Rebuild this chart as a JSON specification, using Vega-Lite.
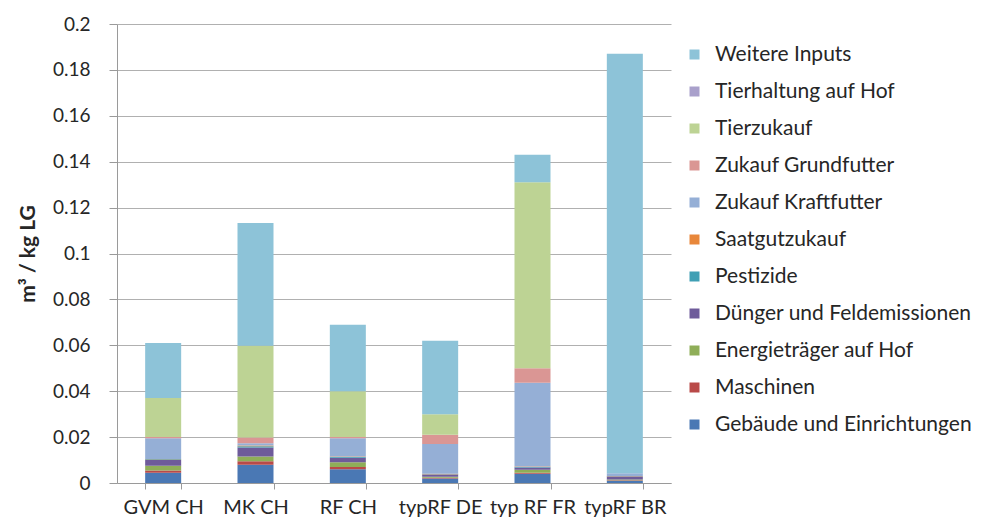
{
  "$schema": "https://vega.github.io/schema/vega-lite/v6.json",
  "autosize": "none",
  "width": 554,
  "height": 459,
  "padding": {"left": 117, "top": 24, "right": 313, "bottom": 42},
  "background": "white",
  "config": {
    "font": "Lato",
    "view": {"stroke": null},
    "axis": {"labelFont": "Lato", "titleFont": "Lato", "labelColor": "#262626", "titleColor": "#262626"},
    "legend": {"labelFont": "Lato"}
  },
  "data": {
    "values": [
      {"s": "GVM CH", "c": "Gebäude und Einrichtungen", "o": 1, "v": 0.0045},
      {"s": "GVM CH", "c": "Maschinen", "o": 2, "v": 0.001},
      {"s": "GVM CH", "c": "Energieträger auf Hof", "o": 3, "v": 0.002},
      {"s": "GVM CH", "c": "Dünger und Feldemissionen", "o": 4, "v": 0.0025},
      {"s": "GVM CH", "c": "Pestizide", "o": 5, "v": 0.0003},
      {"s": "GVM CH", "c": "Saatgutzukauf", "o": 6, "v": 0.0002},
      {"s": "GVM CH", "c": "Zukauf Kraftfutter", "o": 7, "v": 0.009},
      {"s": "GVM CH", "c": "Zukauf Grundfutter", "o": 8, "v": 0.0005},
      {"s": "GVM CH", "c": "Tierzukauf", "o": 9, "v": 0.017},
      {"s": "GVM CH", "c": "Tierhaltung auf Hof", "o": 10, "v": 0},
      {"s": "GVM CH", "c": "Weitere Inputs", "o": 11, "v": 0.024},
      {"s": "MK CH", "c": "Gebäude und Einrichtungen", "o": 1, "v": 0.008},
      {"s": "MK CH", "c": "Maschinen", "o": 2, "v": 0.0015},
      {"s": "MK CH", "c": "Energieträger auf Hof", "o": 3, "v": 0.002},
      {"s": "MK CH", "c": "Dünger und Feldemissionen", "o": 4, "v": 0.004},
      {"s": "MK CH", "c": "Pestizide", "o": 5, "v": 0.0005},
      {"s": "MK CH", "c": "Saatgutzukauf", "o": 6, "v": 0.0003},
      {"s": "MK CH", "c": "Zukauf Kraftfutter", "o": 7, "v": 0.001},
      {"s": "MK CH", "c": "Zukauf Grundfutter", "o": 8, "v": 0.0025},
      {"s": "MK CH", "c": "Tierzukauf", "o": 9, "v": 0.040},
      {"s": "MK CH", "c": "Tierhaltung auf Hof", "o": 10, "v": 0},
      {"s": "MK CH", "c": "Weitere Inputs", "o": 11, "v": 0.0535},
      {"s": "RF CH", "c": "Gebäude und Einrichtungen", "o": 1, "v": 0.006},
      {"s": "RF CH", "c": "Maschinen", "o": 2, "v": 0.001},
      {"s": "RF CH", "c": "Energieträger auf Hof", "o": 3, "v": 0.002},
      {"s": "RF CH", "c": "Dünger und Feldemissionen", "o": 4, "v": 0.002},
      {"s": "RF CH", "c": "Pestizide", "o": 5, "v": 0.0003},
      {"s": "RF CH", "c": "Saatgutzukauf", "o": 6, "v": 0.0002},
      {"s": "RF CH", "c": "Zukauf Kraftfutter", "o": 7, "v": 0.008},
      {"s": "RF CH", "c": "Zukauf Grundfutter", "o": 8, "v": 0.0005},
      {"s": "RF CH", "c": "Tierzukauf", "o": 9, "v": 0.020},
      {"s": "RF CH", "c": "Tierhaltung auf Hof", "o": 10, "v": 0},
      {"s": "RF CH", "c": "Weitere Inputs", "o": 11, "v": 0.029},
      {"s": "typRF DE", "c": "Gebäude und Einrichtungen", "o": 1, "v": 0.002},
      {"s": "typRF DE", "c": "Maschinen", "o": 2, "v": 0.0003},
      {"s": "typRF DE", "c": "Energieträger auf Hof", "o": 3, "v": 0.0004},
      {"s": "typRF DE", "c": "Dünger und Feldemissionen", "o": 4, "v": 0.001},
      {"s": "typRF DE", "c": "Pestizide", "o": 5, "v": 0.0001},
      {"s": "typRF DE", "c": "Saatgutzukauf", "o": 6, "v": 0.0002},
      {"s": "typRF DE", "c": "Zukauf Kraftfutter", "o": 7, "v": 0.013},
      {"s": "typRF DE", "c": "Zukauf Grundfutter", "o": 8, "v": 0.004},
      {"s": "typRF DE", "c": "Tierzukauf", "o": 9, "v": 0.009},
      {"s": "typRF DE", "c": "Tierhaltung auf Hof", "o": 10, "v": 0},
      {"s": "typRF DE", "c": "Weitere Inputs", "o": 11, "v": 0.032},
      {"s": "typ RF FR", "c": "Gebäude und Einrichtungen", "o": 1, "v": 0.004},
      {"s": "typ RF FR", "c": "Maschinen", "o": 2, "v": 0.0005},
      {"s": "typ RF FR", "c": "Energieträger auf Hof", "o": 3, "v": 0.0013},
      {"s": "typ RF FR", "c": "Dünger und Feldemissionen", "o": 4, "v": 0.001},
      {"s": "typ RF FR", "c": "Pestizide", "o": 5, "v": 0.0002},
      {"s": "typ RF FR", "c": "Saatgutzukauf", "o": 6, "v": 0.0002},
      {"s": "typ RF FR", "c": "Zukauf Kraftfutter", "o": 7, "v": 0.0365},
      {"s": "typ RF FR", "c": "Zukauf Grundfutter", "o": 8, "v": 0.0063},
      {"s": "typ RF FR", "c": "Tierzukauf", "o": 9, "v": 0.081},
      {"s": "typ RF FR", "c": "Tierhaltung auf Hof", "o": 10, "v": 0},
      {"s": "typ RF FR", "c": "Weitere Inputs", "o": 11, "v": 0.012},
      {"s": "typRF BR", "c": "Gebäude und Einrichtungen", "o": 1, "v": 0.001},
      {"s": "typRF BR", "c": "Maschinen", "o": 2, "v": 0.0002},
      {"s": "typRF BR", "c": "Energieträger auf Hof", "o": 3, "v": 0.0003},
      {"s": "typRF BR", "c": "Dünger und Feldemissionen", "o": 4, "v": 0.0013},
      {"s": "typRF BR", "c": "Pestizide", "o": 5, "v": 0.0001},
      {"s": "typRF BR", "c": "Saatgutzukauf", "o": 6, "v": 0.0001},
      {"s": "typRF BR", "c": "Zukauf Kraftfutter", "o": 7, "v": 0.0012},
      {"s": "typRF BR", "c": "Zukauf Grundfutter", "o": 8, "v": 0},
      {"s": "typRF BR", "c": "Tierzukauf", "o": 9, "v": 0},
      {"s": "typRF BR", "c": "Tierhaltung auf Hof", "o": 10, "v": 0},
      {"s": "typRF BR", "c": "Weitere Inputs", "o": 11, "v": 0.1828}
    ]
  },
  "mark": {"type": "bar"},
  "encoding": {
    "x": {
      "field": "s",
      "type": "nominal",
      "sort": ["GVM CH", "MK CH", "RF CH", "typRF DE", "typ RF FR", "typRF BR"],
      "scale": {"paddingInner": 0.61, "paddingOuter": 0.305},
      "axis": {
        "title": null,
        "labelAngle": 0,
        "labelFontSize": 20,
        "labelOverlap": false,
        "labelPadding": 8,
        "tickBand": "extent",
        "tickSize": 6,
        "tickColor": "#9a9a9a",
        "domainColor": "#9a9a9a",
        "labelColor": "#262626"
      }
    },
    "y": {
      "field": "v",
      "type": "quantitative",
      "stack": "zero",
      "scale": {"domain": [0, 0.2], "nice": false},
      "axis": {
        "title": "m³ / kg LG",
        "titleFontSize": 21,
        "titleFontWeight": "bold",
        "titlePadding": 14,
        "values": [0, 0.02, 0.04, 0.06, 0.08, 0.1, 0.12, 0.14, 0.16, 0.18, 0.2],
        "format": "~g",
        "labelFontSize": 19,
        "labelPadding": 19,
        "tickSize": 8,
        "tickColor": "#9a9a9a",
        "domainColor": "#9a9a9a",
        "gridColor": "#b0b0b0",
        "gridWidth": 1
      }
    },
    "color": {
      "field": "c",
      "type": "nominal",
      "scale": {
        "domain": ["Weitere Inputs", "Tierhaltung auf Hof", "Tierzukauf", "Zukauf Grundfutter", "Zukauf Kraftfutter", "Saatgutzukauf", "Pestizide", "Dünger und Feldemissionen", "Energieträger auf Hof", "Maschinen", "Gebäude und Einrichtungen"],
        "range": ["#8DC3D8", "#A9A0CB", "#BDD394", "#DA9694", "#95AFD6", "#E8873A", "#3F9FB4", "#6E5B9A", "#8FAE58", "#B94A48", "#4A78B4"]
      },
      "legend": {
        "title": null,
        "orient": "none",
        "legendX": 567,
        "legendY": 20,
        "symbolType": "square",
        "symbolSize": 100,
        "symbolStrokeWidth": 0,
        "labelFontSize": 21,
        "labelOffset": 10,
        "labelColor": "#262626",
        "rowPadding": 15,
        "labelLimit": 400
      }
    },
    "order": {"field": "o", "type": "quantitative", "sort": "ascending"}
  }
}
